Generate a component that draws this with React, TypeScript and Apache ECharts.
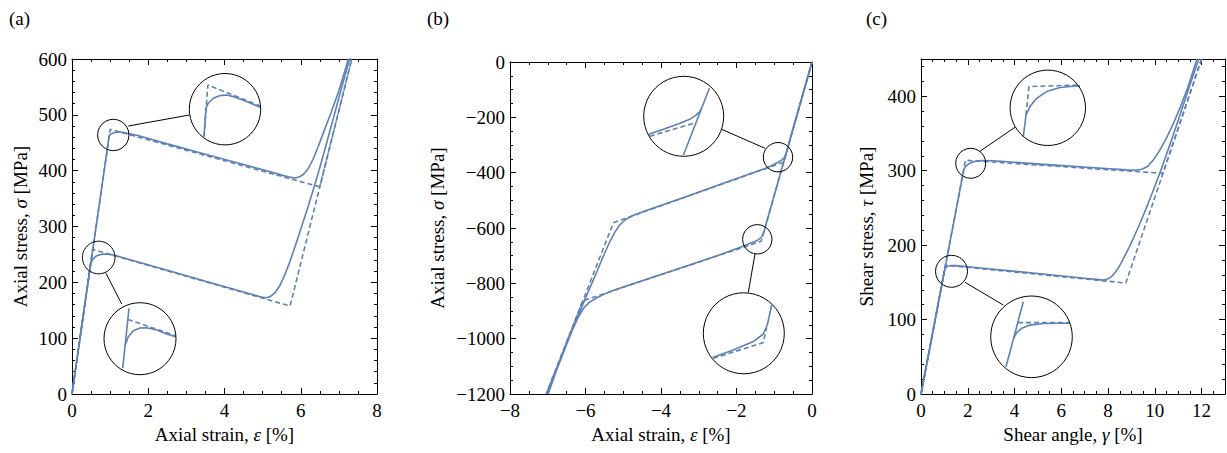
import { useEffect, useRef } from 'react';
import * as echarts from 'echarts';

const BLUE = '#5E81B5';
const FONT = 'Liberation Serif';
const FS = 19;
const MAJOR = 6;
const MINOR = 3;

// ---------- panel (a): axial tension ----------
const aXTicks = [0, 2, 4, 6, 8];
const aYTicks = [0, 100, 200, 300, 400, 500, 600];
const aUpperSolid = [[0, 0], [0.946, 448.3], [0.974, 462.5], [1.006, 465], [1.076, 467.5], [1.17, 468.8], [1.264, 469.1], [1.356, 468.3], [1.544, 465.8], [1.73, 463], [2.5, 448], [3.5, 429.5], [4.5, 411], [5.2, 398], [5.5, 392], [5.7, 388.5], [5.85, 387], [5.97, 389], [6.08, 394], [6.2, 404], [6.32, 420], [6.45, 442], [6.6, 469], [6.8, 505], [7.0, 543], [7.25, 600]];
const aUpperDashed = [[0, 0], [1.0, 474], [6.5, 371], [7.337, 600]];
const aLowerSolid = [[0, 0], [0.488, 233.4], [0.55, 241.7], [0.65, 247.7], [0.784, 250.4], [0.918, 250.7], [1.118, 248.4], [1.318, 244.4], [1.5, 241], [2.5, 221.5], [3.5, 202], [4.5, 182.5], [4.85, 176], [5.0, 173], [5.1, 172.5], [5.2, 174.5], [5.32, 181], [5.45, 194], [5.58, 213], [5.72, 238], [5.86, 266], [6.0, 295], [6.2, 337], [6.4, 382], [6.6, 430], [6.8, 480], [7.05, 543], [7.3, 605]];
const aLowerDashed = [[0, 0], [0.54, 259], [5.72, 157.6], [7.337, 600]];
// magnified knees of (a)
const a1Solid = [[0.946, 448.3], [0.974, 462.5], [1.006, 465], [1.076, 467.5], [1.17, 468.8], [1.264, 469.1], [1.356, 468.3], [1.544, 465.8], [1.73, 463]];
const a1Dashed = [[0.946, 448.3], [1.0, 474.1], [1.73, 463.7]];
const a2Elastic = [[0.438, 210], [0.564, 270]];
const a2Solid = [[0.488, 233.4], [0.55, 241.7], [0.65, 247.7], [0.784, 250.4], [0.918, 250.7], [1.118, 248.4], [1.318, 244.4], [1.494, 241.7]];
const a2Dashed = [[0.54, 259], [1.494, 242.7]];

// ---------- panel (b): axial compression ----------
const bXTicks = [-8, -6, -4, -2, 0];
const bYTicks = [-1200, -1000, -800, -600, -400, -200, 0];
const bUpperSolid = [[0, 0], [-0.616, -296.8], [-0.694, -334.8], [-0.713, -341.5], [-0.753, -348.1], [-0.813, -355.7], [-0.91, -363.3], [-1.076, -374.7], [-1.223, -384.2], [-1.6, -402], [-2.44, -443], [-3.32, -486], [-4.2, -528], [-4.5, -542.5], [-4.75, -555], [-4.95, -570], [-5.1, -590], [-5.22, -615], [-5.35, -648], [-5.5, -693], [-5.7, -758], [-6.04, -866], [-6.54, -1032], [-7.03, -1200]];
const bUpperDashed = [[0, 0], [-0.75, -362], [-5.26, -580.8], [-7.04, -1200]];
const bLowerSolid = [[0, 0], [-1.26, -607], [-1.3, -623], [-1.35, -635], [-1.45, -645], [-1.7, -659], [-1.95, -672], [-2.44, -697], [-3.32, -737], [-4.2, -777], [-4.8, -804], [-5.1, -818], [-5.3, -828], [-5.5, -839], [-5.7, -852], [-5.9, -869], [-6.05, -890], [-6.2, -924], [-6.35, -968], [-6.5, -1020], [-6.75, -1108], [-6.99, -1200]];
const bLowerDashed = [[0, 0], [-1.345, -648], [-6.071, -863], [-7.04, -1200]];
// magnified knees of (b)
const b1Elastic = [[-0.876, -423.5], [-0.616, -296.8]];
const b1Solid = [[-1.223, -384.2], [-1.076, -374.7], [-0.91, -363.3], [-0.813, -355.7], [-0.753, -348.1], [-0.713, -341.5], [-0.694, -334.8]];
const b1Dashed = [[-1.213, -388], [-0.75, -362]];
const b2Solid = [[-1.928, -667.5], [-1.68, -657.6], [-1.44, -646.7], [-1.32, -636.8], [-1.272, -625.1], [-1.22, -599.1]];
const b2Dashed = [[-1.92, -668.4], [-1.32, -648], [-1.28, -628.4]];

// ---------- panel (c): shear ----------
const cXTicks = [0, 2, 4, 6, 8, 10, 12];
const cYTicks = [0, 100, 200, 300, 400];
const cUpperSolid = [[0, 0], [1.786, 294], [1.84, 302.6], [1.92, 306], [2.052, 309.3], [2.252, 312], [2.52, 313.6], [3.1, 313.4], [5.1, 308.8], [7.9, 302.9], [8.8, 301], [9.15, 300.6], [9.45, 301.8], [9.7, 306], [9.95, 315], [10.2, 327], [10.5, 344], [10.8, 364], [11.1, 386], [11.4, 411], [11.7, 440], [11.8, 450]];
const cUpperDashed = [[0, 0], [1.9, 314], [10.35, 296.4], [12.0, 450]];
const cLowerSolid = [[0, 0], [1.005, 166.1], [1.037, 168.6], [1.087, 170.5], [1.17, 171.9], [1.303, 172.6], [1.5, 172.4], [2.0, 171], [3.0, 168], [5.1, 161.5], [7.0, 155.5], [7.5, 154], [7.79, 153], [7.95, 154], [8.1, 156.5], [8.25, 161], [8.4, 167.5], [8.55, 175.5], [8.7, 184.5], [8.9, 197], [9.1, 210.5], [9.35, 228], [9.6, 247], [9.9, 271], [10.25, 300], [10.7, 340], [11.12, 379], [11.5, 415], [11.88, 450]];
const cLowerDashed = [[0, 0], [1.05, 173], [8.76, 149.1], [12.0, 450]];
// magnified knees of (c)
const c1Solid = [[1.786, 294], [1.84, 302.6], [1.92, 306], [2.052, 309.3], [2.252, 312], [2.52, 313.6], [2.786, 314.1], [2.92, 314.2]];
const c1Dashed = [[1.84, 302.6], [1.9, 314], [2.886, 314.6]];
const c2Elastic = [[0.93, 153.6], [1.103, 182.2]];
const c2Solid = [[1.005, 166.1], [1.037, 168.6], [1.087, 170.5], [1.17, 171.9], [1.303, 172.6], [1.437, 172.7], [1.567, 172.7]];
const c2Dashed = [[1.05, 173], [1.567, 173]];

type Pts = number[][];

interface AxisSpec { min: number; max: number; major: number; minor: number; ticks: number[]; name: string; gap: number }

interface PanelSpec {
  grid: { left: number; top: number; width: number; height: number };
  x: AxisSpec;
  y: AxisSpec;
  solid: Pts[];
  dashed: Pts[];
}

const panels: PanelSpec[] = [
  {
    grid: { left: 72, top: 59, width: 305, height: 335 },
    x: { min: 0, max: 8, major: 2, minor: 0.5, ticks: aXTicks, name: 'Axial strain, {i|ε} [%]', gap: 31 },
    y: { min: 0, max: 600, major: 100, minor: 20, ticks: aYTicks, name: 'Axial stress, {i|σ} [MPa]', gap: 42 },
    solid: [aUpperSolid, aLowerSolid],
    dashed: [aUpperDashed, aLowerDashed],
  },
  {
    grid: { left: 510, top: 62, width: 302, height: 332 },
    x: { min: -8, max: 0, major: 2, minor: 0.5, ticks: bXTicks, name: 'Axial strain, {i|ε} [%]', gap: 31 },
    y: { min: -1200, max: 0, major: 200, minor: 50, ticks: bYTicks, name: 'Axial stress, {i|σ} [MPa]', gap: 63 },
    solid: [bUpperSolid, bLowerSolid],
    dashed: [bUpperDashed, bLowerDashed],
  },
  {
    grid: { left: 921, top: 59, width: 304, height: 335 },
    x: { min: 0, max: 13, major: 2, minor: 0.5, ticks: cXTicks, name: 'Shear angle, {i|γ} [%]', gap: 31 },
    y: { min: 0, max: 450, major: 100, minor: 20, ticks: cYTicks, name: 'Shear stress, {i|τ} [MPa]', gap: 45 },
    solid: [cUpperSolid, cLowerSolid],
    dashed: [cUpperDashed, cLowerDashed],
  },
];

interface InsetSpec {
  cx: number; cy: number; r: number;
  xr: [number, number]; yr: [number, number];
  solid: Pts[]; dashed: Pts[];
  small: [number, number, number];
  link: [number, number, number, number];
}

const insets: InsetSpec[] = [
  { cx: 225, cy: 109.2, r: 35.7, xr: [0.74, 1.74], yr: [444.15, 479.85], solid: [a1Solid], dashed: [a1Dashed], small: [113.3, 135, 15.7], link: [128.3, 126, 189.3, 115] },
  { cx: 140, cy: 338.7, r: 36, xr: [0.064, 1.504], yr: [203.7, 275.7], solid: [a2Elastic, a2Solid], dashed: [a2Dashed], small: [98.7, 257.5, 16.3], link: [106, 273.3, 121.7, 304] },
  { cx: 683.7, cy: 116.3, r: 40, xr: [-1.273, -0.473], yr: [-426, -274], solid: [b1Elastic, b1Solid], dashed: [b1Dashed], small: [778, 157.2, 14.7], link: [721.7, 129.3, 765, 148.3] },
  { cx: 743.8, cy: 333.3, r: 40.5, xr: [-2.04, -1.068], yr: [-688.55, -583.25], solid: [b2Solid], dashed: [b2Dashed], small: [757.3, 239.3, 14.7], link: [755, 254, 748.3, 292.3] },
  { cx: 1047.8, cy: 107.8, r: 37.7, xr: [1.522, 3.03], yr: [290.42, 320.58], solid: [c1Solid], dashed: [c1Dashed], small: [970.7, 163.3, 15], link: [979.3, 151.7, 1015, 127.3] },
  { cx: 1031.5, cy: 336.8, r: 40.8, xr: [0.777, 1.593], yr: [148.8, 184.7], solid: [c2Elastic, c2Solid], dashed: [c2Dashed], small: [951.5, 271.3, 16], link: [965, 282.3, 1003.3, 305] },
];

const tickLabel = (ticks: number[]) => (v: number) =>
  ticks.includes(v) ? (v < 0 ? '\u2212' + Math.abs(v) : String(v)) : '';

const textStyle = { fontFamily: FONT, fontSize: FS, color: '#000' };

function frameAxes(gridIndex: number, s: AxisSpec, isX: boolean) {
  const sides = isX ? ['bottom', 'top'] : ['left', 'right'];
  const base = { type: 'value', gridIndex, min: s.min, max: s.max, splitLine: { show: false } };
  const line = { show: true, onZero: false, lineStyle: { color: '#000', width: 1 } };
  const axes: any[] = [];
  sides.forEach((pos, k) => {
    axes.push({
      ...base,
      position: pos,
      interval: s.major,
      axisLine: line,
      axisTick: { show: true, inside: true, length: MAJOR, lineStyle: { color: '#000', width: 1 } },
      axisLabel: k === 0
        ? { show: true, margin: isX ? 7 : 5, formatter: tickLabel(s.ticks), ...textStyle }
        : { show: false },
      ...(k === 0
        ? {
            name: s.name,
            nameLocation: 'middle',
            nameGap: s.gap,
            nameTextStyle: { ...textStyle, rich: { i: { ...textStyle, fontStyle: 'italic' } } },
          }
        : {}),
    });
  });
  sides.forEach((pos) => {
    axes.push({
      ...base,
      position: pos,
      interval: s.minor,
      axisLine: { show: false, onZero: false },
      axisTick: { show: true, inside: true, length: MINOR, lineStyle: { color: '#000', width: 1 } },
      axisLabel: { show: false },
    });
  });
  return axes;
}

const curve = (data: Pts, xi: number, yi: number, dashed: boolean) => ({
  type: 'line',
  data,
  xAxisIndex: xi,
  yAxisIndex: yi,
  showSymbol: false,
  symbol: 'none',
  silent: true,
  z: 3,
  lineStyle: { color: BLUE, width: 1.6, type: dashed ? [5, 3] : 'solid' },
});

function buildOption() {
  const grid: any[] = [];
  const xAxis: any[] = [];
  const yAxis: any[] = [];
  const series: any[] = [];
  const graphic: any[] = [];

  panels.forEach((p, gi) => {
    grid.push({ ...p.grid, outerBoundsMode: 'none' });
    const xi = xAxis.length;
    const yi = yAxis.length;
    xAxis.push(...frameAxes(gi, p.x, true));
    yAxis.push(...frameAxes(gi, p.y, false));
    p.dashed.forEach((d) => series.push(curve(d, xi, yi, true)));
    p.solid.forEach((d) => series.push(curve(d, xi, yi, false)));
  });

  insets.forEach((s) => {
    const gi = grid.length;
    grid.push({ left: s.cx - s.r, top: s.cy - s.r, width: 2 * s.r, height: 2 * s.r, outerBoundsMode: 'none' });
    const xi = xAxis.length;
    const yi = yAxis.length;
    xAxis.push({ type: 'value', gridIndex: gi, min: s.xr[0], max: s.xr[1], show: false, splitLine: { show: false } });
    yAxis.push({ type: 'value', gridIndex: gi, min: s.yr[0], max: s.yr[1], show: false, splitLine: { show: false } });
    s.dashed.forEach((d) => series.push(curve(d, xi, yi, true)));
    s.solid.forEach((d) => series.push(curve(d, xi, yi, false)));

    const ring = { fill: 'none', stroke: '#000', lineWidth: 1 };
    graphic.push({ type: 'circle', z: 5, silent: true, shape: { cx: s.cx, cy: s.cy, r: s.r }, style: ring });
    graphic.push({ type: 'circle', z: 5, silent: true, shape: { cx: s.small[0], cy: s.small[1], r: s.small[2] }, style: ring });
    graphic.push({
      type: 'line', z: 5, silent: true,
      shape: { x1: s.link[0], y1: s.link[1], x2: s.link[2], y2: s.link[3] },
      style: { stroke: '#000', lineWidth: 1 },
    });
  });

  [['(a)', 9], ['(b)', 427], ['(c)', 866]].forEach(([t, x]) => {
    graphic.push({
      type: 'text', x, y: 9, z: 5, silent: true,
      style: { text: t, fontFamily: FONT, fontSize: FS, fill: '#000', textVerticalAlign: 'top' },
    });
  });

  return { animation: false, backgroundColor: '#fff', grid, xAxis, yAxis, series, graphic };
}

export default function App() {
  const ref = useRef<HTMLDivElement>(null);
  useEffect(() => {
    if (!ref.current) return;
    const chart = echarts.init(ref.current, undefined, { renderer: 'svg' });
    chart.setOption(buildOption() as any);
    return () => chart.dispose();
  }, []);
  return (
    <div
      ref={ref}
      style={{ position: 'absolute', left: 0, top: 0, width: 1227, height: 453, background: '#fff' }}
    />
  );
}
